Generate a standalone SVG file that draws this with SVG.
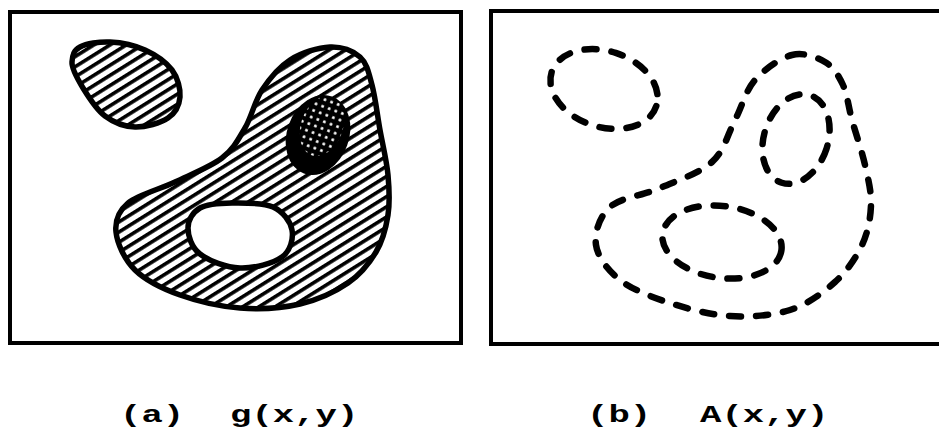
<svg xmlns="http://www.w3.org/2000/svg" width="939" height="437" viewBox="0 0 939 437">
<style>
.frame{fill:none;stroke:#000;stroke-width:4}
.solid{stroke:#000;stroke-width:5.5;stroke-linejoin:round}
.dash{fill:none;stroke:#000;stroke-width:6.5;stroke-dasharray:12 15;stroke-linecap:round}
.lbl{font-family:"Liberation Mono","DejaVu Sans Mono",monospace;font-size:23px;font-weight:bold;fill:#000}
</style>
<defs>
<pattern id="hatch" patternUnits="userSpaceOnUse" width="9" height="8.6" patternTransform="rotate(-32)">
<rect width="9" height="8.6" fill="#fff"/>
<rect width="9" height="3.6" fill="#000"/>
</pattern>
<pattern id="dots" patternUnits="userSpaceOnUse" width="7" height="7" patternTransform="rotate(20)">
<circle cx="3.5" cy="3.5" r="1.5" fill="#fff"/>
</pattern>
<clipPath id="dotclip">
<ellipse cx="0" cy="0" rx="21" ry="31" transform="translate(322,126) rotate(20)"/>
</clipPath>
</defs>
<rect width="939" height="437" fill="#fff"/>

<g id="panel-a">
<rect class="frame" x="10" y="12" width="451" height="331"/>
<g id="blob-small-a">
<path class="solid" fill="url(#hatch)" d="M80,47 C86.3,43.7 99.2,41.5 110,42 C120.8,42.5 134.7,45.3 145,50 C155.3,54.7 166.2,62.2 172,70 C177.8,77.8 180.7,89 180,97 C179.3,105 175.5,113 168,118 C160.5,123 145.5,127.3 135,127 C124.5,126.7 113.7,122.5 105,116 C96.3,109.5 88.5,97 83,88 C77.5,79 71.5,68.8 72,62 C72.5,55.2 73.7,50.3 80,47 Z"/>
</g>
<g id="blob-large-a">
<path class="solid" fill="url(#hatch)" d="M330,47 C341.7,46.5 353,50.7 360,57 C367,63.3 368.7,72.8 372,85 C375.3,97.2 377.3,115 380,130 C382.7,145 386.7,160.8 388,175 C389.3,189.2 390,202.2 388,215 C386,227.8 382.7,240.7 376,252 C369.3,263.3 360.7,274.3 348,283 C335.3,291.7 318,299.8 300,304 C282,308.2 260,309.5 240,308 C220,306.5 197.5,301.3 180,295 C162.5,288.7 145.7,280.5 135,270 C124.3,259.5 117.2,243.2 116,232 C114.8,220.8 118.2,211.3 128,203 C137.8,194.7 159.3,189.5 175,182 C190.7,174.5 210.3,167 222,158 C233.7,149 238.3,139.3 245,128 C251.7,116.7 254.5,101.3 262,90 C269.5,78.7 278.7,67.2 290,60 C301.3,52.8 318.3,47.5 330,47 Z"/>
</g>
<g id="hole-a">
<path class="solid" fill="#fff" d="M232,203 C244.2,202.8 263,202.5 273,207 C283,211.5 290.5,221.7 292,230 C293.5,238.3 290.7,250.7 282,257 C273.3,263.3 253.7,268.5 240,268 C226.3,267.5 208.7,260.7 200,254 C191.3,247.3 188,235.7 188,228 C188,220.3 192.7,212.2 200,208 C207.3,203.8 219.8,203.2 232,203 Z"/>
</g>
<g id="peak-a">
<ellipse cx="0" cy="0" rx="30" ry="40" fill="#000" stroke="#000" stroke-width="2" transform="translate(318,135) rotate(20)"/>
<rect x="290" y="90" width="70" height="80" fill="url(#dots)" clip-path="url(#dotclip)"/>
</g>
</g>

<g id="panel-b">
<rect class="frame" x="491" y="11" width="460" height="333"/>
<g id="contour-small-b">
<ellipse class="dash" cx="0" cy="0" rx="55" ry="38" transform="translate(604,89) rotate(18)"/>
</g>
<g id="contour-large-b">
<path class="dash" d="M792,55 C803.7,52 816.5,57 825,62 C833.5,67 838.5,75.3 843,85 C847.5,94.7 848.3,106.7 852,120 C855.7,133.3 861.8,150.8 865,165 C868.2,179.2 871.5,191.7 871,205 C870.5,218.3 868,232.2 862,245 C856,257.8 847,271.2 835,282 C823,292.8 807.5,304.3 790,310 C772.5,315.7 750,317.2 730,316 C710,314.8 688.3,309 670,303 C651.7,297 632.3,289.7 620,280 C607.7,270.3 597.7,257.2 596,245 C594.3,232.8 599.3,216.5 610,207 C620.7,197.5 643,195.5 660,188 C677,180.5 699.5,173.3 712,162 C724.5,150.7 727.8,133.7 735,120 C742.2,106.3 745.5,90.8 755,80 C764.5,69.2 780.3,58 792,55 Z"/>
</g>
<g id="contour-hole-b">
<ellipse class="dash" cx="0" cy="0" rx="60" ry="36" transform="translate(722,242) rotate(8)"/>
</g>
<g id="contour-peak-b">
<ellipse class="dash" cx="0" cy="0" rx="32" ry="46" transform="translate(796,139) rotate(18)"/>
</g>
</g>

<g id="labels">
<text class="lbl" transform="translate(120,422) scale(1.55,1)">(a)</text>
<text class="lbl" transform="translate(230,422) scale(1.55,1)">g(x,y)</text>
<text class="lbl" transform="translate(587,422) scale(1.55,1)">(b)</text>
<text class="lbl" transform="translate(700,422) scale(1.55,1)">A(x,y)</text>
</g>
</svg>
